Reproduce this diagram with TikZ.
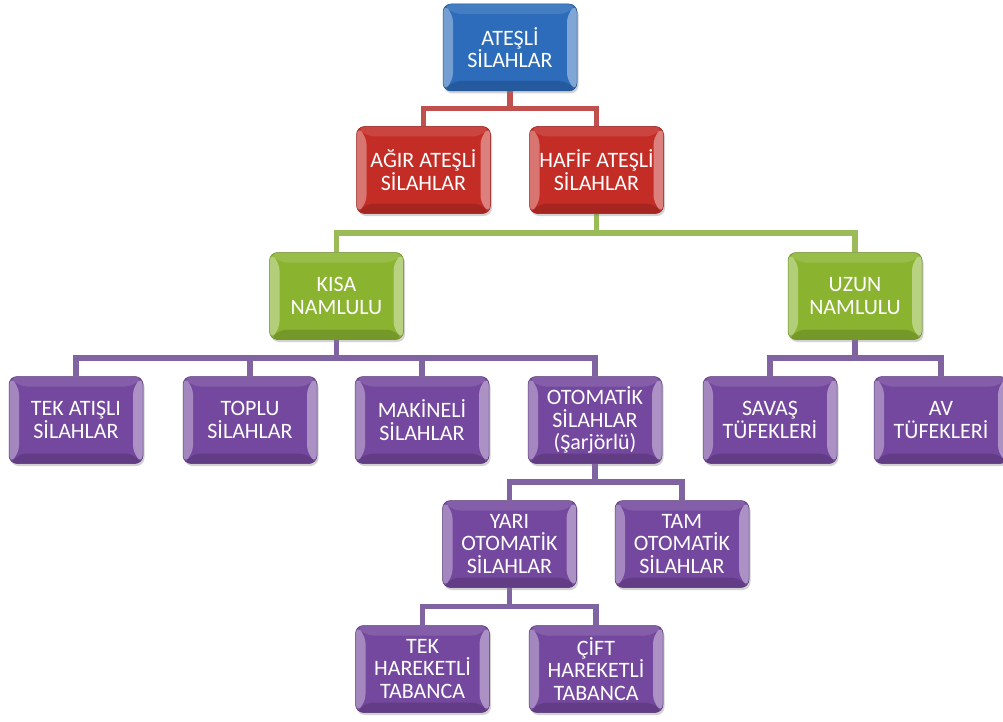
\documentclass[tikz,border=0pt]{standalone}
\usepackage{fontspec}
\setmainfont{Carlito}
\usetikzlibrary{calc,shadows,backgrounds}
\definecolor{cblue}{RGB}{44,108,186}
\definecolor{cred}{RGB}{196,44,38}
\definecolor{cgreen}{RGB}{138,180,48}
\definecolor{cpurple}{RGB}{116,72,158}
\definecolor{lred}{RGB}{192,80,77}
\definecolor{lgreen}{RGB}{155,187,89}
\definecolor{lpurple}{RGB}{128,100,162}
\tikzset{
  bevel/.style={path picture={
    \fill[white,opacity=0.35] (path picture bounding box.north west) -- (path picture bounding box.south west)
      -- ([xshift=10pt,yshift=10pt]path picture bounding box.south west)
      -- ([xshift=10pt,yshift=-10pt]path picture bounding box.north west) -- cycle;
    \fill[white,opacity=0.4] (path picture bounding box.north east) -- (path picture bounding box.south east)
      -- ([xshift=-10pt,yshift=10pt]path picture bounding box.south east)
      -- ([xshift=-10pt,yshift=-10pt]path picture bounding box.north east) -- cycle;
    \fill[white,opacity=0.12] (path picture bounding box.north west) -- (path picture bounding box.north east)
      -- ([xshift=-10pt,yshift=-10pt]path picture bounding box.north east)
      -- ([xshift=10pt,yshift=-10pt]path picture bounding box.north west) -- cycle;
    \fill[black,opacity=0.15] (path picture bounding box.south west) -- (path picture bounding box.south east)
      -- ([xshift=-10pt,yshift=10pt]path picture bounding box.south east)
      -- ([xshift=10pt,yshift=10pt]path picture bounding box.south west) -- cycle;
  }},
  box/.style={rectangle, rounded corners=8pt, minimum width=134pt, minimum height=87pt,
    inner sep=0pt, align=center, text=white, font=\fontsize{22}{22.5}\selectfont,
    fill=#1, draw=#1!75!black, line width=0.5pt,
    drop shadow={opacity=0.35,shadow xshift=1.5pt,shadow yshift=-2.5pt}, bevel},
  conn/.style={draw=#1, line width=5.5pt},
}
\newcommand\linkto[3]{\draw[conn=#1] (#2.south) |- ($(#2.south)!0.5!(#3.north)$) -| (#3.north);}
\begin{document}
\begin{tikzpicture}[x=1pt,y=-1pt]
\useasboundingbox (0,0) rectangle (1003,722);
\node[box=cblue] (A) at (510,47.5) {ATEŞLİ\\SİLAHLAR};
\node[box=cred] (B1) at (423.5,170) {AĞIR ATEŞLİ\\SİLAHLAR};
\node[box=cred] (B2) at (596.5,170) {HAFİF ATEŞLİ\\SİLAHLAR};
\node[box=cgreen] (C1) at (336.5,296) {KISA\\NAMLULU};
\node[box=cgreen] (C2) at (855,296) {UZUN\\NAMLULU};
\node[box=cpurple] (D1) at (76,420) {TEK ATIŞLI\\SİLAHLAR};
\node[box=cpurple] (D2) at (250,420) {TOPLU\\SİLAHLAR};
\node[box=cpurple] (D3) at (422,420) {MAKİNELİ\\SİLAHLAR};
\node[box=cpurple] (D4) at (595,420) {OTOMATİK\\SİLAHLAR\\(Şarjörlü)};
\node[box=cpurple] (D5) at (770,420) {SAVAŞ\\TÜFEKLERİ};
\node[box=cpurple] (D6) at (941,420) {AV\\TÜFEKLERİ};
\node[box=cpurple] (E1) at (509.5,544) {YARI\\OTOMATİK\\SİLAHLAR};
\node[box=cpurple] (E2) at (682,544) {TAM\\OTOMATİK\\SİLAHLAR};
\node[box=cpurple] (F1) at (422.5,669) {TEK\\HAREKETLİ\\TABANCA};
\node[box=cpurple] (F2) at (596,669) {ÇİFT\\HAREKETLİ\\TABANCA};
\begin{scope}[on background layer]
\fill[white] (0,0) rectangle (1003,722);
\linkto{lred}{A}{B1}
\linkto{lred}{A}{B2}
\linkto{lgreen}{B2}{C1}
\linkto{lgreen}{B2}{C2}
\linkto{lpurple}{C1}{D1}
\linkto{lpurple}{C1}{D2}
\linkto{lpurple}{C1}{D3}
\linkto{lpurple}{C1}{D4}
\linkto{lpurple}{C2}{D5}
\linkto{lpurple}{C2}{D6}
\linkto{lpurple}{D4}{E1}
\linkto{lpurple}{D4}{E2}
\linkto{lpurple}{E1}{F1}
\linkto{lpurple}{E1}{F2}
\end{scope}
\end{tikzpicture}
\end{document}
